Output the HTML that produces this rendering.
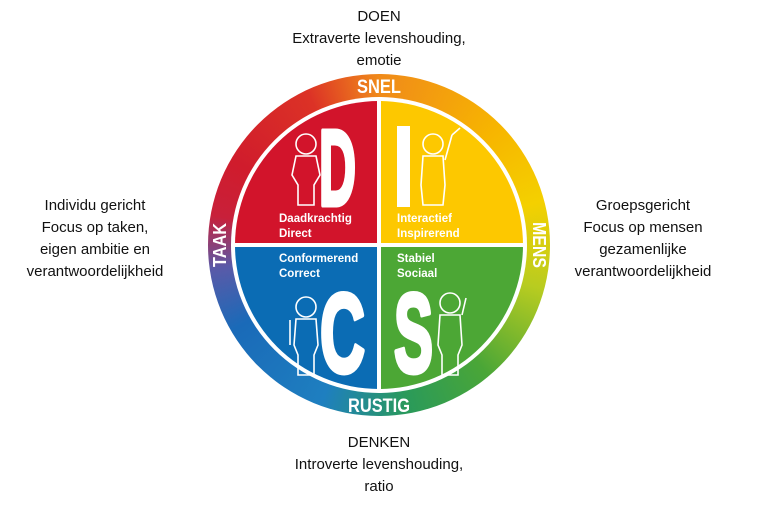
<!DOCTYPE html>
<html><head><meta charset="utf-8"><style>
body{margin:0;width:768px;height:514px;background:#fff;overflow:hidden;font-family:"Liberation Sans",sans-serif}
.t{position:absolute;text-align:center;font-size:15px;line-height:22px;color:#111}
#ring{position:absolute;left:208px;top:74px;width:342px;height:342px;border-radius:50%;
background:conic-gradient(from 0deg,#f08a1a 0deg,#f7b500 45deg,#f4d000 75deg,#b8cc20 105deg,#4aa637 140deg,#2a9a5a 170deg,#1e7fc0 200deg,#1a6ab8 240deg,#5a5aa8 262deg,#c8203a 280deg,#d01c2c 300deg,#dc3226 335deg,#f08a1a 360deg)}
</style></head><body>
<div class="t" style="left:229px;top:6px;width:300px">DOEN<br>Extraverte levenshouding,<br>emotie</div>
<div class="t" style="left:0;top:195px;width:190px">Individu gericht<br>Focus op taken,<br>eigen ambitie en<br>verantwoordelijkheid</div>
<div class="t" style="left:548px;top:195px;width:190px">Groepsgericht<br>Focus op mensen<br>gezamenlijke<br>verantwoordelijkheid</div>
<div class="t" style="left:229px;top:432px;width:300px">DENKEN<br>Introverte levenshouding,<br>ratio</div>
<div id="ring"></div>
<svg style="position:absolute;left:0;top:0" width="768" height="514">
<defs><clipPath id="c"><circle cx="379" cy="245" r="144"/></clipPath></defs>
<circle cx="379" cy="245" r="148" fill="#fff"/>
<g clip-path="url(#c)">
<rect x="230" y="96" width="147" height="147" fill="#d2142b"/>
<rect x="381" y="96" width="147" height="147" fill="#fdc800"/>
<rect x="230" y="247" width="147" height="147" fill="#0b6cb4"/>
<rect x="381" y="247" width="147" height="147" fill="#4ca735"/>
</g>
<g fill="#fff" font-weight="bold">
<text x="379" y="93" font-size="19" text-anchor="middle" textLength="44" lengthAdjust="spacingAndGlyphs">SNEL</text>
<text x="379" y="412" font-size="19" text-anchor="middle" textLength="62" lengthAdjust="spacingAndGlyphs">RUSTIG</text>
<text transform="translate(226,245) rotate(-90)" font-size="18" text-anchor="middle" textLength="44" lengthAdjust="spacingAndGlyphs">TAAK</text>
<text transform="translate(533,245) rotate(90)" font-size="18" text-anchor="middle" textLength="46" lengthAdjust="spacingAndGlyphs">MENS</text>
<g font-size="11.5">
<text x="279" y="222">Daadkrachtig</text><text x="279" y="237">Direct</text>
<text x="397" y="222">Interactief</text><text x="397" y="237">Inspirerend</text>
<text x="279" y="262">Conformerend</text><text x="279" y="277">Correct</text>
<text x="397" y="262">Stabiel</text><text x="397" y="277">Sociaal</text>
</g>
<g stroke="#fff" stroke-width="5" stroke-linejoin="round">
<text x="319" y="205" font-size="108" textLength="37" lengthAdjust="spacingAndGlyphs">D</text>
<text x="320" y="372" font-size="112" textLength="45" lengthAdjust="spacingAndGlyphs">C</text>
<text x="394" y="372" font-size="112" textLength="39" lengthAdjust="spacingAndGlyphs">S</text>
</g>
<rect x="397" y="126" width="13" height="81"/>
</g>
<g fill="none" stroke="#fff" stroke-width="1.6">
<circle cx="306" cy="144" r="10"/><path d="M296 156 L316 156 L320 175 L314 185 L314 205 L298 205 L298 185 L292 175 Z"/>
<circle cx="433" cy="144" r="10"/><path d="M423 156 L443 156 L445 185 L443 205 L423 205 L421 185 Z M445 160 L452 135 M452 135 L460 128"/>
<circle cx="306" cy="307" r="10"/><path d="M296 319 L316 319 L318 345 L314 355 L314 375 L298 375 L298 355 L294 345 Z M290 320 L290 345"/>
<circle cx="450" cy="303" r="10"/><path d="M440 315 L460 315 L462 345 L458 355 L458 375 L442 375 L442 355 L438 345 Z M462 315 L466 298"/>
</g>
</svg>
</body></html>
